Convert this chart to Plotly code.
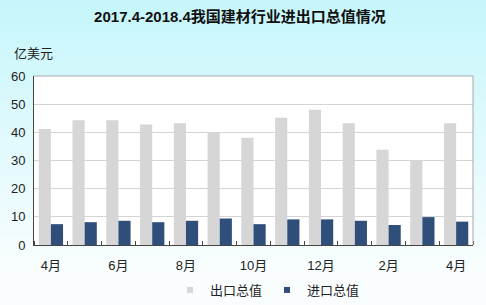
import plotly.graph_objects as go

months = ["4月", "5月", "6月", "7月", "8月", "9月", "10月", "11月", "12月", "1月", "2月", "3月", "4月"]
export_total = [41.2, 44.3, 44.3, 42.8, 43.2, 39.9, 38.1, 45.2, 48.0, 43.2, 33.8, 30.2, 43.2]
import_total = [7.4, 8.1, 8.6, 8.1, 8.6, 9.4, 7.4, 9.1, 9.1, 8.6, 7.1, 9.9, 8.3]
series_names = ["出口总值", "进口总值"]
series_colors = ["#d6d6d6", "#2f4f7a"]
y_ticks = [0, 10, 20, 30, 40, 50, 60]

x_idx = list(range(len(months)))

W, H = 486, 305
ML, MR, MT, MB = 34, 13, 76, 60
pw, ph = W - ML - MR, H - MT - MB

fig = go.Figure()
fig.add_trace(go.Bar(x=x_idx, y=export_total, name=series_names[0], showlegend=False,
                     marker=dict(color=series_colors[0], line=dict(width=0))))
fig.add_trace(go.Bar(x=x_idx, y=import_total, name=series_names[1], showlegend=False,
                     marker=dict(color=series_colors[1], line=dict(width=0))))
# legend entries with small square symbols
for nm, col in zip(series_names, series_colors):
    fig.add_trace(go.Scatter(x=[None], y=[None], mode="markers", name=nm,
                             marker=dict(symbol="square", size=6, color=col)))

# background vertical gradient (cyan -> white)
shapes = []
N = 40
top_c = (198, 246, 251)
bot_c = (250, 253, 254)
def px_to_paper_y(py):
    return (H - MB - py) / ph
def px_to_paper_x(px):
    return (px - ML) / pw
x0p = -ML / pw
x1p = 1 + MR / pw
for i in range(N):
    t = i / (N - 1)
    c = tuple(int(round(top_c[k] + (bot_c[k] - top_c[k]) * min(1, t * 1.1))) for k in range(3))
    y_top = H * i / N
    y_bot = H * (i + 1) / N + 1
    shapes.append(dict(type="rect", xref="paper", yref="paper", layer="below",
                       x0=x0p, x1=x1p, y0=px_to_paper_y(y_bot), y1=px_to_paper_y(y_top),
                       line=dict(width=0), fillcolor="rgb(%d,%d,%d)" % c))
shapes.append(dict(type="rect", xref="paper", yref="paper", layer="below",
                   x0=0, x1=1, y0=0, y1=1, line=dict(width=0), fillcolor="white"))
# top & right border of plot area
shapes.append(dict(type="line", xref="paper", yref="paper", x0=0, x1=1, y0=1, y1=1,
                   line=dict(color="#a8a8a8", width=1)))
shapes.append(dict(type="line", xref="paper", yref="paper", x0=1, x1=1, y0=0, y1=1,
                   line=dict(color="#a8a8a8", width=1)))

font_family = "Liberation Sans, Arial, Noto Sans CJK SC, sans-serif"

fig.update_layout(
    width=W, height=H,
    margin=dict(l=ML, r=MR, t=MT, b=MB, autoexpand=False),
    paper_bgcolor="rgb(230,250,252)",
    plot_bgcolor="white",
    barmode="group",
    bargap=0.28,
    bargroupgap=0.0,
    font=dict(family=font_family, size=13, color="#222222"),
    title=dict(text="<b>2017.4-2018.4我国建材行业进出口总值情况</b>",
               x=240 / W, xref="container", xanchor="center", y=1 - 17 / H, yanchor="middle",
               font=dict(size=15, color="#111111", family="Liberation Sans, Noto Sans CJK SC, sans-serif")),
    shapes=shapes,
    showlegend=True,
    legend=dict(orientation="h", x=px_to_paper_x(170), xanchor="left",
                y=px_to_paper_y(290), yanchor="middle",
                font=dict(size=13, color="#222222"), itemwidth=30,
                bgcolor="rgba(0,0,0,0)"),
    annotations=[dict(text="亿美元", xref="paper", yref="paper", x=-ML / pw + 12 / pw,
                      y=px_to_paper_y(53), xanchor="left", yanchor="middle", showarrow=False,
                      font=dict(size=13, color="#222222"))],
)

fig.update_xaxes(
    range=[-0.5, len(months) - 0.5],
    tickmode="array", tickvals=x_idx[::2], ticktext=months[::2],
    ticks="", showgrid=False, zeroline=False,
    showline=True, linecolor="#444444", linewidth=1,
    ticklabelstandoff=8,
    tickfont=dict(size=13, color="#222222"),
    minor=dict(tick0=-0.5, dtick=1, ticks="inside", ticklen=4, tickcolor="#444444", tickwidth=1, showgrid=False),
)
fig.update_yaxes(
    range=[0, 60], tickmode="array", tickvals=y_ticks,
    ticks="", showgrid=True, gridcolor="#d4d4d4", gridwidth=1,
    zeroline=False, showline=True, linecolor="#444444", linewidth=1,
    tickfont=dict(size=13, color="#222222"), ticklabelstandoff=5,
)

fig.write_html("out.html")
